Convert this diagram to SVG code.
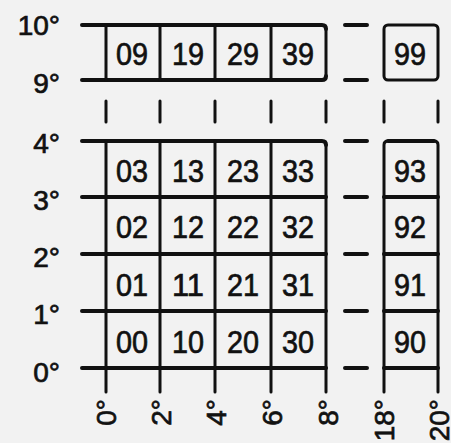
<svg xmlns="http://www.w3.org/2000/svg" width="451" height="443" viewBox="0 0 451 443">
<style>
.ln{fill:none;stroke:#111;stroke-linecap:round;stroke-linejoin:round}
.h{stroke-width:4}
.v{stroke-width:3}
.cell text,.lab{font-family:"Liberation Sans",Arial,sans-serif;fill:#111;stroke:#111;stroke-width:0.7px;font-weight:normal}
.cell text{font-size:32px;text-anchor:middle}
.lab{font-size:28px}
.ya{text-anchor:end}
.xa{text-anchor:end}
</style>
<rect width="451" height="443" fill="#f2f2f2"/>
<g id="connectors">
<g class="ln h">
<path d="M82,25H322Q326,25 326,29"/>
<path d="M82,80H322Q326,80 326,76"/>
<path d="M82,141H322Q326,141 326,145"/>
<path d="M82,197H326M82,254H326M82,311H326M82,368H326"/>
<path d="M345,25H367M345,80H367M345,141H367M345,197H367M345,254H367M345,311H367M345,368H367"/>
<path d="M384,197H438M384,254H438M384,311H438M384,368H438"/>
<path d="M388,141H434"/>
</g>
<g class="ln v">
<path d="M106,25V80M160,25V80M215,25V80M271,25V80M326,29V76"/>
<path d="M106,101V122M160,101V122M215,101V122M271,101V122M326,101V122M384,101V122M438,101V122"/>
<path d="M106,141V392M160,141V392M215,141V392M271,141V392M326,145V392"/>
<path d="M384,392V145Q384,141 388,141M434,141Q438,141 438,145V392"/>
<rect x="384" y="25" width="54" height="55" rx="4"/>
</g>
</g>
<g id="y-axis">
<text class="lab ya" x="60" y="35">10°</text>
<text class="lab ya" x="60" y="93">9°</text>
<text class="lab ya" x="60" y="153">4°</text>
<text class="lab ya" x="60" y="210">3°</text>
<text class="lab ya" x="60" y="267">2°</text>
<text class="lab ya" x="60" y="324">1°</text>
<text class="lab ya" x="60" y="382">0°</text>
</g>
<g id="x-axis">
<text class="lab xa" transform="translate(116,399) rotate(-90)">0°</text>
<text class="lab xa" transform="translate(171,399) rotate(-90)">2°</text>
<text class="lab xa" transform="translate(226,399) rotate(-90)">4°</text>
<text class="lab xa" transform="translate(282,399) rotate(-90)">6°</text>
<text class="lab xa" transform="translate(338,399) rotate(-90)">8°</text>
<text class="lab xa" transform="translate(394,399) rotate(-90)">18°</text>
<text class="lab xa" transform="translate(449,399) rotate(-90)">20°</text>
</g>
<g id="c09" class="cell"><text x="132" y="65" textLength="32" lengthAdjust="spacingAndGlyphs">09</text></g>
<g id="c19" class="cell"><text x="188" y="65" textLength="32" lengthAdjust="spacingAndGlyphs">19</text></g>
<g id="c29" class="cell"><text x="243" y="65" textLength="32" lengthAdjust="spacingAndGlyphs">29</text></g>
<g id="c39" class="cell"><text x="298" y="65" textLength="32" lengthAdjust="spacingAndGlyphs">39</text></g>
<g id="c99" class="cell"><text x="410" y="65" textLength="32" lengthAdjust="spacingAndGlyphs">99</text></g>
<g id="c03" class="cell"><text x="132" y="182" textLength="32" lengthAdjust="spacingAndGlyphs">03</text></g>
<g id="c13" class="cell"><text x="188" y="182" textLength="32" lengthAdjust="spacingAndGlyphs">13</text></g>
<g id="c23" class="cell"><text x="243" y="182" textLength="32" lengthAdjust="spacingAndGlyphs">23</text></g>
<g id="c33" class="cell"><text x="298" y="182" textLength="32" lengthAdjust="spacingAndGlyphs">33</text></g>
<g id="c93" class="cell"><text x="410" y="182" textLength="32" lengthAdjust="spacingAndGlyphs">93</text></g>
<g id="c02" class="cell"><text x="132" y="238" textLength="32" lengthAdjust="spacingAndGlyphs">02</text></g>
<g id="c12" class="cell"><text x="188" y="238" textLength="32" lengthAdjust="spacingAndGlyphs">12</text></g>
<g id="c22" class="cell"><text x="243" y="238" textLength="32" lengthAdjust="spacingAndGlyphs">22</text></g>
<g id="c32" class="cell"><text x="298" y="238" textLength="32" lengthAdjust="spacingAndGlyphs">32</text></g>
<g id="c92" class="cell"><text x="410" y="238" textLength="32" lengthAdjust="spacingAndGlyphs">92</text></g>
<g id="c01" class="cell"><text x="132" y="296" textLength="32" lengthAdjust="spacingAndGlyphs">01</text></g>
<g id="c11" class="cell"><text x="188" y="296" textLength="32" lengthAdjust="spacingAndGlyphs">11</text></g>
<g id="c21" class="cell"><text x="243" y="296" textLength="32" lengthAdjust="spacingAndGlyphs">21</text></g>
<g id="c31" class="cell"><text x="298" y="296" textLength="32" lengthAdjust="spacingAndGlyphs">31</text></g>
<g id="c91" class="cell"><text x="410" y="296" textLength="32" lengthAdjust="spacingAndGlyphs">91</text></g>
<g id="c00" class="cell"><text x="132" y="353" textLength="32" lengthAdjust="spacingAndGlyphs">00</text></g>
<g id="c10" class="cell"><text x="188" y="353" textLength="32" lengthAdjust="spacingAndGlyphs">10</text></g>
<g id="c20" class="cell"><text x="243" y="353" textLength="32" lengthAdjust="spacingAndGlyphs">20</text></g>
<g id="c30" class="cell"><text x="298" y="353" textLength="32" lengthAdjust="spacingAndGlyphs">30</text></g>
<g id="c90" class="cell"><text x="410" y="353" textLength="32" lengthAdjust="spacingAndGlyphs">90</text></g>
</svg>
